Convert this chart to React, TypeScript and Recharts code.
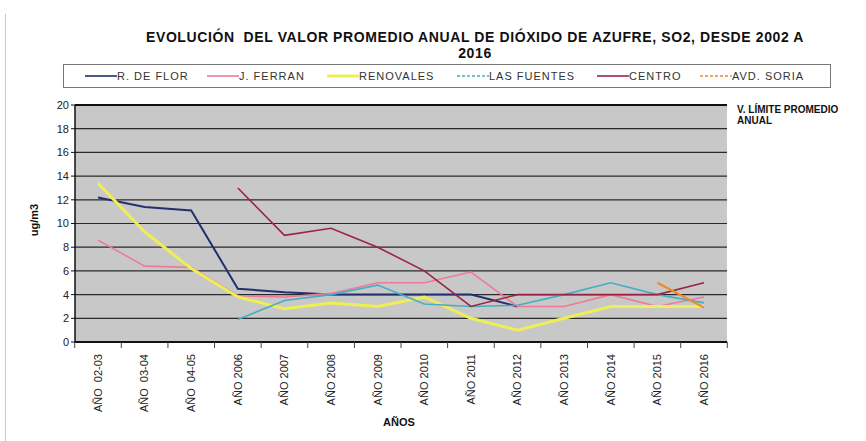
import React from 'react';
import { LineChart, Line, XAxis, YAxis, CartesianGrid, Legend, ReferenceLine } from 'recharts';

const categories = ['AÑO  02-03', 'AÑO  03-04', 'AÑO  04-05', 'AÑO 2006', 'AÑO 2007', 'AÑO 2008', 'AÑO 2009', 'AÑO 2010', 'AÑO 2011', 'AÑO 2012', 'AÑO 2013', 'AÑO 2014', 'AÑO 2015', 'AÑO 2016'];
const rDeFlor = [12.2, 11.4, 11.1, 4.5, 4.2, 4.0, 4.0, 4.0, 4.0, 3.0, null, null, null, null];
const jFerran = [8.6, 6.4, 6.3, 3.9, 3.8, 4.1, 5.0, 5.0, 5.9, 3.0, 3.0, 4.0, 3.0, 3.8];
const renovales = [13.4, 9.3, 6.2, 3.8, 2.8, 3.3, 3.0, 3.8, 2.0, 1.0, 2.0, 3.0, 3.0, 3.0];
const lasFuentes = [null, null, null, 1.9, 3.5, 4.0, 4.8, 3.2, 3.0, 3.1, 4.0, 5.0, 4.0, 3.3];
const centro = [null, null, null, 13.0, 9.0, 9.6, 8.0, 6.0, 3.0, 4.0, 4.0, 4.0, 4.0, 5.0];
const avdSoria = [null, null, null, null, null, null, null, null, null, null, null, null, 5.0, 2.9];
const yTicks = [0, 2, 4, 6, 8, 10, 12, 14, 16, 18, 20];
const limitValue = 20;

const series = [
  { key: 'rDeFlor', name: 'R. DE FLOR', color: '#22306f', width: 2, values: rDeFlor, legendW: 122 },
  { key: 'jFerran', name: 'J. FERRAN', color: '#ef7a98', width: 1.6, values: jFerran, legendW: 120 },
  { key: 'renovales', name: 'RENOVALES', color: '#eeee55', width: 3, values: renovales, legendW: 130 },
  { key: 'lasFuentes', name: 'LAS FUENTES', color: '#45aec4', width: 1.6, values: lasFuentes, legendW: 140 },
  { key: 'centro', name: 'CENTRO', color: '#9b2445', width: 1.6, values: centro, legendW: 103 },
  { key: 'avdSoria', name: 'AVD. SORIA', color: '#ef8a2a', width: 2.2, values: avdSoria, legendW: 112 },
];

const data = categories.map((c, i) => {
  const row: any = { cat: c };
  series.forEach((s) => { row[s.key] = s.values[i]; });
  return row;
});

const FONT = '"Liberation Sans", Arial, sans-serif';
const HALF_STEP = 23.3;

const XTick = (props: any) => {
  const { x, y, payload, index, visibleTicksCount } = props;
  const isLast = visibleTicksCount != null ? index === visibleTicksCount - 1 : payload.value === categories[categories.length - 1];
  return (
    <g transform={`translate(${x},${y})`}>
      <line x1={-HALF_STEP} y1={-2} x2={-HALF_STEP} y2={4} stroke="#444" strokeWidth={1} />
      {isLast && <line x1={HALF_STEP} y1={-2} x2={HALF_STEP} y2={4} stroke="#444" strokeWidth={1} />}
      <text transform="rotate(-90)" x={-10} y={0} dy="0.35em" textAnchor="end" fontSize={11} fill="#222" fontFamily={FONT} style={{ whiteSpace: 'pre' }}>
        {payload.value}
      </text>
    </g>
  );
};

const LegendContent = () => (
  <div style={{ width: 768, height: 24, border: '1px solid #777', boxSizing: 'border-box', display: 'flex', alignItems: 'center', paddingLeft: 21, fontFamily: FONT, fontSize: 11, color: '#333', background: '#fff' }}>
    {series.map((s) => (
      <div key={s.key} style={{ width: s.legendW, display: 'flex', alignItems: 'center', flex: 'none' }}>
        <svg width={32} height={8} style={{ flex: 'none' }}>
          <line x1={0} y1={4} x2={32} y2={4} stroke={s.color} strokeWidth={s.key === 'renovales' ? 3 : 1.6} strokeDasharray={s.key === 'lasFuentes' || s.key === 'avdSoria' ? '3 2' : undefined} />
        </svg>
        <span style={{ letterSpacing: 1, whiteSpace: 'nowrap' }}>{s.name}</span>
      </div>
    ))}
  </div>
);

export default function App() {
  return (
    <div style={{ position: 'absolute', left: 0, top: 0, width: 866, height: 441, background: '#fff', overflow: 'hidden', fontFamily: FONT }}>
      <div style={{ position: 'absolute', left: 5, top: 14, width: 1, height: 427, background: '#c8c8c8' }} />
      <div style={{ position: 'absolute', left: 0, top: 29, width: 950, textAlign: 'center', fontSize: 14, letterSpacing: 0.6, fontWeight: 'bold', color: '#111', lineHeight: '16px' }}>
        EVOLUCIÓN&nbsp; DEL VALOR PROMEDIO ANUAL DE DIÓXIDO DE AZUFRE, SO2, DESDE 2002 A<br />2016
      </div>
      <div style={{ position: 'absolute', left: 737, top: 104, fontSize: 10, fontWeight: 'bold', color: '#111', lineHeight: '11px' }}>
        V. LÍMITE PROMEDIO<br />ANUAL
      </div>
      <div style={{ position: 'absolute', left: 383, top: 416, fontSize: 11, fontWeight: 'bold', color: '#111' }}>AÑOS</div>
      <div style={{ position: 'absolute', left: 12, top: 214, transform: 'rotate(-90deg)', transformOrigin: 'center', width: 44, textAlign: 'center', fontSize: 11, fontWeight: 'bold', color: '#111' }}>ug/m3</div>
      <LineChart width={866} height={441} data={data} margin={{ top: 105, right: 139, bottom: 0, left: 25 }} style={{ position: 'absolute', left: 0, top: 0 }}>
        <CartesianGrid vertical={false} stroke="#2a2a2a" strokeWidth={1.2} fill="#c8c8c8" fillOpacity={1} />
        <XAxis dataKey="cat" interval={0} height={75} padding={{ left: 23, right: 23 }} tickLine={false} tickSize={0} axisLine={{ stroke: '#111', strokeWidth: 2 }} tick={<XTick />} />
        <YAxis domain={[0, 20]} ticks={yTicks} width={50} interval={0} tick={{ fontSize: 11, fill: '#222', fontFamily: FONT }} tickLine={{ stroke: '#111' }} tickSize={4} axisLine={{ stroke: '#111', strokeWidth: 1.5 }} />
        <YAxis yAxisId="r" orientation="right" width={0} domain={[0, 20]} tick={false} tickLine={false} axisLine={{ stroke: '#111', strokeWidth: 1.5 }} />
        <ReferenceLine y={limitValue} stroke="#111" strokeWidth={2} />
        <Legend content={<LegendContent />} wrapperStyle={{ position: 'absolute', left: 63, top: 64, width: 768, height: 24 }} />
        {series.map((s) => (
          <Line key={s.key} type="linear" dataKey={s.key} name={s.name} stroke={s.color} strokeWidth={s.width} dot={false} isAnimationActive={false} connectNulls={false} />
        ))}
      </LineChart>
    </div>
  );
}
